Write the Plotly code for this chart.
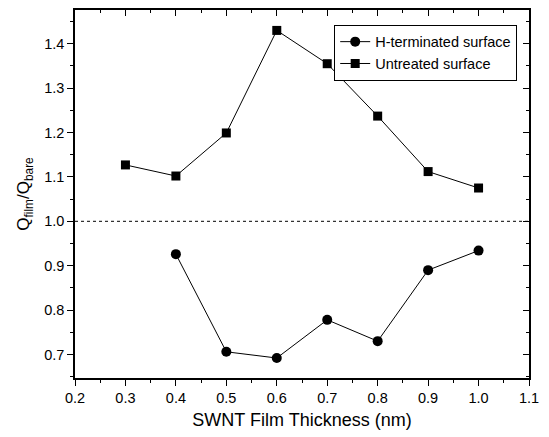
import plotly.graph_objects as go

x_h = [0.4, 0.5, 0.6, 0.7, 0.8, 0.9, 1.0]
y_h = [0.926, 0.706, 0.692, 0.778, 0.730, 0.890, 0.934]
x_u = [0.3, 0.4, 0.5, 0.6, 0.7, 0.8, 0.9, 1.0]
y_u = [1.127, 1.102, 1.199, 1.430, 1.355, 1.237, 1.112, 1.075]
ref_level = 1.0
x_range = [0.2, 1.1]
y_range = [0.647, 1.476]

font = "Liberation Sans, Arial, sans-serif"

fig = go.Figure()
fig.add_trace(go.Scatter(x=x_h, y=y_h, mode="lines+markers", name="H-terminated surface",
                         line=dict(color="black", width=1),
                         marker=dict(symbol="circle", size=10, color="black")))
fig.add_trace(go.Scatter(x=x_u, y=y_u, mode="lines+markers", name="Untreated surface",
                         line=dict(color="black", width=1),
                         marker=dict(symbol="square", size=9, color="black")))
fig.add_trace(go.Scatter(x=x_range, y=[ref_level, ref_level], mode="lines", showlegend=False,
                         line=dict(color="black", width=1, dash="dot"), hoverinfo="skip"))
fig.add_trace(go.Scatter(x=[None], y=[None], xaxis="x2", yaxis="y2", showlegend=False))

common = dict(showline=True, linecolor="black", linewidth=1.5, showgrid=False, zeroline=False,
              ticklen=6, tickwidth=1.2, tickcolor="black")
minor_out = dict(ticks="outside", ticklen=3, tickcolor="black", dtick=0.05, tickwidth=1.2)
minor_in = dict(ticks="inside", ticklen=3, tickcolor="black", dtick=0.05, tickwidth=1.2)

fig.update_layout(
    width=549, height=437,
    margin=dict(l=75, r=14, t=10, b=54),
    plot_bgcolor="white", paper_bgcolor="white",
    font=dict(family=font, size=14.5, color="black"),
    xaxis=dict(range=x_range, dtick=0.1, tick0=0.2, ticks="outside", tickformat=".1f",
               minor=minor_out, ticklabeloverflow="allow",
               title=dict(text="SWNT Film Thickness (nm)", font=dict(size=18), standoff=8),
               **common),
    yaxis=dict(range=y_range, dtick=0.1, tick0=0.7, ticks="outside", tickformat=".1f",
               minor=minor_out,
               title=dict(text="Q<sub>film</sub>/Q<sub>bare</sub>", font=dict(size=17), standoff=10),
               **common),
    xaxis2=dict(overlaying="x", side="top", matches="x", range=x_range, dtick=0.1, tick0=0.2,
                ticks="inside", showticklabels=False, minor=minor_in, **common),
    yaxis2=dict(overlaying="y", side="right", matches="y", range=y_range, dtick=0.1, tick0=0.7,
                ticks="inside", showticklabels=False, minor=minor_in, **common),
    legend=dict(x=0.974, y=0.96, xanchor="right", yanchor="top", bordercolor="black", borderwidth=1,
                bgcolor="white", font=dict(size=14.5), tracegroupgap=0, itemwidth=30),
    showlegend=True,
)

fig.write_html("out.html", config={"displayModeBar": False},
               post_script="document.body.style.margin='0';document.body.style.overflow='hidden';")
